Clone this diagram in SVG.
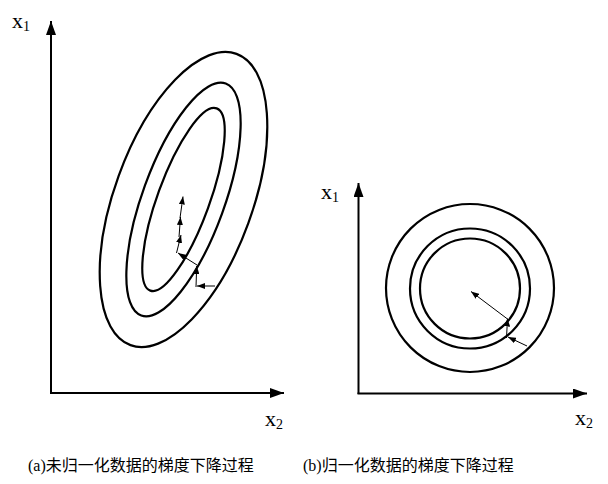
<svg xmlns="http://www.w3.org/2000/svg" width="608" height="484" viewBox="0 0 608 484">
<defs>
<marker id="ax" viewBox="0 0 14 10" refX="14" refY="5" markerWidth="14" markerHeight="10" markerUnits="userSpaceOnUse" orient="auto">
<path d="M0,0 L14,5 L0,10 Z" fill="#000"/>
</marker>
<marker id="ar" viewBox="0 0 8 6" refX="8" refY="3" markerWidth="8" markerHeight="6" markerUnits="userSpaceOnUse" orient="auto">
<path d="M0,0 L8,3 L0,6 Z" fill="#000"/>
</marker>
</defs>
<style>
.axis{stroke:#000;stroke-width:2;fill:none}
.contour{stroke:#000;stroke-width:2.2;fill:none}
.step{stroke:#000;stroke-width:1;fill:none;marker-end:url(#ar)}
.lbl{font-family:"Liberation Serif",serif;font-size:22px;fill:#000}
.sub{font-size:14px}
.cap{font-family:"Liberation Serif","Noto Sans CJK SC",serif;font-size:16px;fill:#000}
</style>
<rect width="608" height="484" fill="#fff"/>
<g id="plot-a">
<g id="axes-a">
<line class="axis" x1="51" y1="393" x2="51" y2="21" marker-end="url(#ax)"/>
<line class="axis" x1="50" y1="393" x2="284" y2="393" marker-end="url(#ax)"/>
<text class="lbl" x="12" y="28">x<tspan class="sub" dy="3">1</tspan></text>
<text class="lbl" x="265" y="426">x<tspan class="sub" dy="3">2</tspan></text>
</g>
<g id="contours-a" transform="translate(183.5,199.5) rotate(20)">
<ellipse class="contour" cx="0" cy="0" rx="69" ry="155"/>
<ellipse class="contour" cx="0" cy="0" rx="41" ry="123.5"/>
<ellipse class="contour" cx="0" cy="0" rx="26" ry="97"/>
</g>
<g id="steps-a">
<line class="step" x1="215" y1="286" x2="197" y2="286"/>
<line class="step" x1="196" y1="287" x2="196.7" y2="266"/>
<line class="step" x1="197" y1="265" x2="178" y2="253"/>
<line class="step" x1="176.5" y1="253" x2="181" y2="235"/>
<line class="step" x1="179" y1="237" x2="180.5" y2="217"/>
<line class="step" x1="180" y1="218" x2="183" y2="196.5"/>
</g>
</g>
<g id="plot-b">
<g id="axes-b">
<line class="axis" x1="358.5" y1="394" x2="358.5" y2="183" marker-end="url(#ax)"/>
<line class="axis" x1="357.5" y1="393.5" x2="587" y2="393.5" marker-end="url(#ax)"/>
<text class="lbl" x="321" y="199">x<tspan class="sub" dy="3">1</tspan></text>
<text class="lbl" x="575" y="425">x<tspan class="sub" dy="3">2</tspan></text>
</g>
<g id="contours-b">
<circle class="contour" cx="470" cy="288" r="84"/>
<circle class="contour" cx="470" cy="288.5" r="60"/>
<circle class="contour" cx="470" cy="288.5" r="50"/>
</g>
<g id="steps-b">
<line class="step" x1="527" y1="346" x2="508" y2="337"/>
<line class="step" x1="506.5" y1="338" x2="507.5" y2="318.5"/>
<line class="step" x1="507.5" y1="319" x2="471" y2="291.5"/>
</g>
</g>
<g id="captions">
<text class="cap" x="28" y="471">(a)未归一化数据的梯度下降过程</text>
<text class="cap" x="303" y="471">(b)归一化数据的梯度下降过程</text>
</g>
</svg>
